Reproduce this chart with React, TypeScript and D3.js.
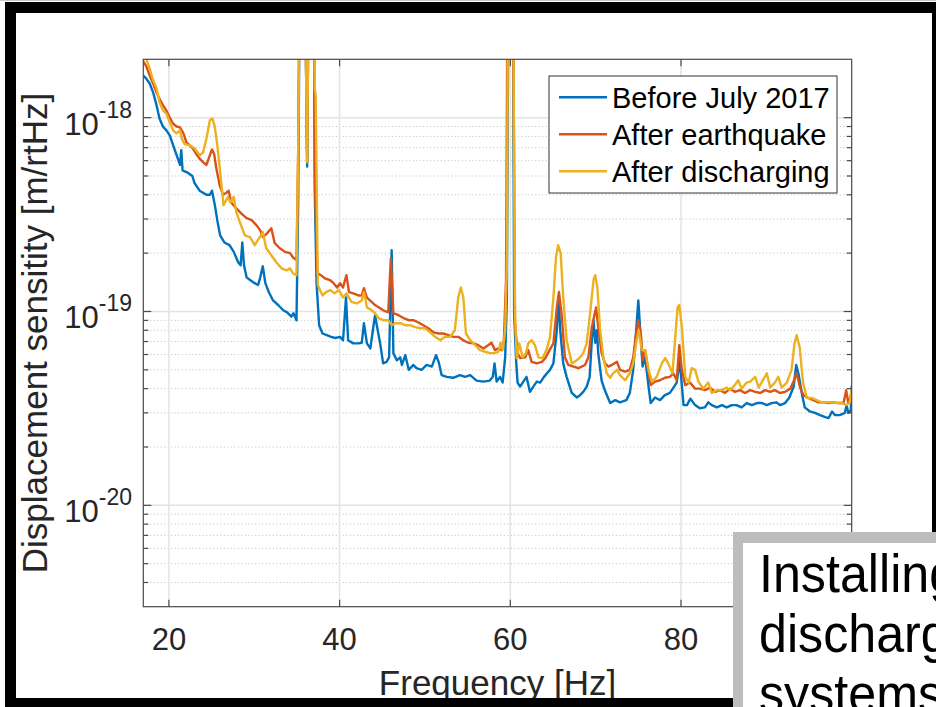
import React from 'react';
import * as d3 from 'd3';

// Displacement sensitivity spectra, values in units of 1e-19 m/rtHz
const UNIT = 1e-19;

const beforeJuly2017: [number, number][] = [
  [17.0, 16.5], [17.35, 15.9], [17.75, 15.0], [18.15, 13.5], [18.55, 11.6], [18.9, 9.9], [19.3, 9.0], [19.7, 8.6],
  [20.1, 8.1], [20.5, 7.2], [20.9, 6.4], [21.3, 5.7], [21.45, 6.8], [21.6, 5.35], [22.2, 5.2], [22.75, 5.0],
  [23.0, 4.6], [23.6, 4.2], [24.4, 4.0], [24.8, 4.0], [25.05, 4.2], [25.4, 3.5], [25.7, 2.9], [26.0, 2.47],
  [26.5, 2.27], [27.1, 2.2], [27.6, 2.03], [28.1, 1.8], [28.4, 1.73], [28.6, 2.27], [28.8, 1.73], [29.1, 1.5],
  [29.55, 1.45], [30.05, 1.4], [30.45, 1.37], [30.7, 1.5], [31.0, 1.71], [31.3, 1.4], [31.7, 1.26], [32.2, 1.14],
  [32.8, 1.08], [33.4, 1.015], [33.85, 0.99], [34.35, 0.94], [34.6, 0.98], [34.95, 0.9], [35.15, 3.75], [35.35, 80],
  [35.9, 80], [36.2, 5.6], [36.4, 80], [36.95, 80], [37.1, 4.0], [37.3, 1.4], [37.6, 0.85], [38.0, 0.77],
  [38.5, 0.755], [39.0, 0.74], [39.5, 0.73], [40.05, 0.74], [40.4, 0.71], [40.75, 1.18], [41.0, 0.71], [41.6, 0.685],
  [42.2, 0.685], [42.6, 0.69], [42.85, 0.87], [43.2, 0.685], [43.6, 0.645], [43.9, 0.8], [44.15, 0.957], [44.4, 0.83],
  [44.75, 0.685], [45.1, 0.54], [45.5, 0.55], [45.8, 0.58], [46.1, 2.07], [46.3, 0.61], [46.7, 0.56], [47.1, 0.58],
  [47.3, 0.53], [47.7, 0.595], [48.1, 0.5], [48.65, 0.53], [49.0, 0.51], [49.6, 0.5], [50.2, 0.53], [50.8, 0.52],
  [51.3, 0.595], [51.6, 0.55], [51.95, 0.47], [52.55, 0.46], [53.3, 0.455], [54.1, 0.47], [54.7, 0.46], [55.3, 0.47],
  [56.05, 0.44], [56.85, 0.435], [57.6, 0.44], [57.95, 0.46], [58.15, 0.54], [58.4, 0.435], [58.8, 0.46], [59.1, 0.43],
  [59.4, 0.58], [59.6, 1.18], [59.8, 80], [60.3, 80], [60.45, 0.98], [60.7, 0.54], [60.85, 0.43], [61.15, 0.41],
  [61.45, 0.43], [61.9, 0.46], [62.3, 0.385], [62.7, 0.41], [63.1, 0.435], [63.5, 0.43], [63.95, 0.46], [64.3, 0.48],
  [64.65, 0.5], [65.05, 0.54], [65.45, 0.8], [65.65, 1.18], [65.85, 0.8], [66.2, 0.54], [66.6, 0.46], [67.2, 0.38],
  [67.8, 0.36], [68.17, 0.37], [68.55, 0.385], [68.95, 0.41], [69.3, 0.46], [69.55, 0.71], [69.75, 0.9], [69.95, 0.69],
  [70.15, 0.8], [70.3, 0.61], [70.7, 0.44], [71.1, 0.39], [71.7, 0.337], [72.3, 0.349], [72.85, 0.34], [73.6, 0.349],
  [74.0, 0.38], [74.4, 0.5], [74.75, 0.8], [75.0, 1.14], [75.2, 0.83], [75.5, 0.52], [75.8, 0.58], [76.2, 0.41],
  [76.45, 0.337], [76.95, 0.36], [77.55, 0.349], [78.1, 0.37], [78.7, 0.38], [79.2, 0.41], [79.5, 0.43], [79.85, 0.56],
  [80.3, 0.329], [80.7, 0.329], [81.1, 0.355], [81.65, 0.329], [82.2, 0.317], [82.8, 0.32], [83.2, 0.34], [83.6, 0.329],
  [84.2, 0.32], [84.8, 0.329], [85.35, 0.32], [85.95, 0.329], [86.5, 0.329], [87.1, 0.32], [87.7, 0.337], [88.3, 0.329],
  [88.9, 0.337], [89.5, 0.337], [90.05, 0.329], [90.6, 0.337], [91.2, 0.34], [91.6, 0.329], [92.2, 0.337], [92.7, 0.36],
  [93.2, 0.41], [93.5, 0.53], [93.75, 0.48], [94.15, 0.38], [94.5, 0.32], [95.1, 0.305], [95.7, 0.3], [96.3, 0.292],
  [96.9, 0.285], [97.3, 0.282], [97.7, 0.305], [98.05, 0.292], [98.6, 0.292], [99.2, 0.3], [99.4, 0.329], [99.6, 0.3],
  [99.9, 0.31], [100.0, 0.41],
];

const afterEarthquake: [number, number][] = [
  [17.0, 19.5], [17.35, 18.4], [17.75, 16.5], [18.15, 15.0], [18.55, 13.5], [18.9, 12.5], [19.3, 11.6], [19.7, 10.9],
  [20.1, 10.0], [20.5, 9.3], [20.9, 9.0], [21.3, 8.9], [21.7, 8.3], [22.05, 7.45], [22.45, 7.2], [22.8, 6.95],
  [23.2, 6.5], [23.6, 6.15], [24.0, 5.9], [24.4, 5.7], [24.8, 6.4], [25.05, 6.85], [25.3, 6.5], [25.55, 5.5],
  [25.95, 4.48], [26.35, 4.0], [26.75, 4.1], [27.0, 4.2], [27.3, 3.65], [27.9, 3.4], [28.5, 3.2], [29.1, 3.03],
  [29.7, 2.96], [30.25, 2.79], [30.7, 2.62], [31.0, 2.42], [31.5, 2.53], [32.0, 2.69], [32.4, 2.25], [33.0, 2.12],
  [33.6, 2.03], [34.2, 2.0], [34.55, 1.9], [34.95, 1.84], [35.15, 6.8], [35.35, 80], [35.9, 80], [36.2, 5.9],
  [36.4, 80], [36.95, 80], [37.1, 4.6], [37.4, 1.58], [37.8, 1.54], [38.3, 1.48], [38.9, 1.45], [39.3, 1.4],
  [39.7, 1.33], [40.05, 1.4], [40.4, 1.33], [40.8, 1.54], [41.1, 1.26], [41.6, 1.24], [42.2, 1.21], [42.6, 1.21],
  [42.85, 1.32], [43.2, 1.18], [43.75, 1.12], [44.15, 1.08], [44.75, 1.04], [45.1, 1.015], [45.7, 0.99], [46.0, 1.88],
  [46.3, 0.98], [46.9, 0.957], [47.5, 0.925], [48.1, 0.902], [48.65, 0.902], [49.2, 0.88], [49.8, 0.85], [50.4, 0.82],
  [51.0, 0.78], [51.6, 0.77], [52.15, 0.77], [52.75, 0.755], [53.35, 0.74], [53.9, 0.74], [54.5, 0.71], [55.1, 0.69],
  [55.7, 0.685], [56.25, 0.67], [56.85, 0.645], [57.4, 0.67], [57.8, 0.69], [58.2, 0.632], [58.6, 0.645], [59.0, 0.632],
  [59.25, 0.711], [59.5, 1.45], [59.7, 80], [60.3, 80], [60.55, 0.87], [60.85, 0.61], [61.15, 0.575], [61.75, 0.58],
  [62.1, 0.632], [62.5, 0.55], [63.1, 0.54], [63.7, 0.55], [64.1, 0.575], [64.6, 0.632], [65.05, 0.685], [65.45, 1.05],
  [65.7, 1.26], [66.0, 0.98], [66.4, 0.58], [66.8, 0.53], [67.4, 0.52], [68.0, 0.51], [68.75, 0.53], [69.15, 0.58],
  [69.55, 0.83], [70.05, 1.05], [70.3, 0.83], [70.7, 0.61], [71.1, 0.54], [71.5, 0.52], [71.9, 0.53], [72.5, 0.55],
  [72.85, 0.5], [73.45, 0.49], [74.0, 0.5], [74.4, 0.58], [74.75, 0.77], [75.0, 0.9], [75.3, 0.77], [75.5, 0.56],
  [75.8, 0.632], [76.2, 0.48], [76.45, 0.417], [76.95, 0.435], [77.55, 0.442], [78.1, 0.455], [78.7, 0.46], [79.1, 0.48],
  [79.5, 0.442], [79.8, 0.67], [80.1, 0.5], [80.5, 0.417], [81.05, 0.43], [81.65, 0.4], [82.2, 0.4], [82.8, 0.393],
  [83.4, 0.405], [84.0, 0.385], [84.6, 0.393], [85.15, 0.38], [85.75, 0.4], [86.3, 0.385], [86.9, 0.393], [87.5, 0.38],
  [88.1, 0.393], [88.7, 0.385], [89.3, 0.38], [89.85, 0.393], [90.45, 0.385], [91.0, 0.393], [91.6, 0.38], [92.2, 0.385],
  [92.8, 0.4], [93.25, 0.442], [93.55, 0.48], [93.95, 0.405], [94.35, 0.37], [94.9, 0.358], [95.5, 0.349], [96.1, 0.34],
  [96.7, 0.34], [97.3, 0.337], [97.85, 0.34], [98.45, 0.337], [99.05, 0.337], [99.35, 0.393], [99.6, 0.337], [100.0, 0.38],
];

const afterDischarging: [number, number][] = [
  [17.0, 20.5], [17.35, 20.1], [17.75, 17.9], [18.15, 15.6], [18.55, 14.2], [18.9, 12.0], [19.3, 10.9], [19.7, 10.5],
  [20.1, 9.45], [20.5, 8.6], [20.9, 8.3], [21.3, 8.6], [21.5, 7.8], [21.85, 7.3], [22.45, 7.2], [23.0, 6.95],
  [23.6, 6.4], [24.0, 6.6], [24.4, 7.8], [24.8, 9.7], [25.1, 9.9], [25.35, 9.1], [25.65, 7.35], [26.05, 5.04],
  [26.4, 3.53], [26.9, 3.9], [27.2, 3.65], [27.6, 3.9], [27.9, 3.25], [28.3, 2.9], [28.9, 2.47], [29.5, 2.42],
  [30.05, 2.2], [30.65, 2.42], [31.0, 2.57], [31.4, 2.12], [32.0, 1.95], [32.6, 1.79], [33.2, 1.67], [33.8, 1.63],
  [34.2, 1.67], [34.55, 1.57], [34.95, 1.54], [35.15, 6.8], [35.35, 80], [35.9, 80], [36.2, 5.9], [36.4, 80],
  [36.95, 80], [37.1, 14.1], [37.2, 13.0], [37.45, 1.37], [37.7, 1.29], [38.0, 1.21], [38.4, 1.26], [38.9, 1.29],
  [39.4, 1.24], [39.9, 1.29], [40.05, 1.26], [40.4, 1.18], [40.8, 1.24], [41.4, 1.12], [42.0, 1.1], [42.6, 1.14],
  [42.85, 1.26], [43.2, 1.05], [43.75, 1.015], [44.15, 0.98], [44.55, 0.925], [45.1, 0.902], [45.7, 0.902], [46.1, 0.85],
  [46.5, 0.87], [47.1, 0.87], [47.7, 0.85], [48.25, 0.85], [48.85, 0.83], [49.4, 0.82], [50.0, 0.82], [50.6, 0.78],
  [51.2, 0.74], [51.8, 0.711], [52.35, 0.74], [52.95, 0.74], [53.5, 0.8], [53.9, 1.18], [54.2, 1.33], [54.5, 1.18],
  [54.8, 0.77], [55.3, 0.711], [55.9, 0.67], [56.45, 0.632], [57.05, 0.62], [57.6, 0.61], [58.2, 0.61], [58.6, 0.62],
  [58.85, 0.69], [59.1, 0.632], [59.4, 0.8], [59.6, 1.78], [59.75, 80], [60.3, 80], [60.55, 0.98], [60.75, 0.575],
  [61.05, 0.685], [61.45, 0.58], [61.85, 0.61], [62.1, 0.685], [62.5, 0.711], [62.9, 0.67], [63.3, 0.58], [63.8, 0.575],
  [64.3, 0.645], [64.65, 0.74], [65.05, 1.18], [65.35, 1.9], [65.6, 2.2], [65.9, 2.0], [66.2, 1.18], [66.6, 0.711],
  [67.2, 0.54], [67.8, 0.56], [68.17, 0.58], [68.55, 0.61], [68.95, 0.685], [69.35, 0.98], [69.75, 1.45], [69.95, 1.54],
  [70.2, 1.33], [70.5, 0.83], [70.9, 0.58], [71.3, 0.48], [71.7, 0.455], [72.05, 0.48], [72.5, 0.5], [72.85, 0.47],
  [73.45, 0.442], [74.0, 0.48], [74.4, 0.54], [74.8, 0.711], [75.05, 0.8], [75.4, 0.632], [75.8, 0.632], [76.2, 0.5],
  [76.6, 0.435], [77.15, 0.46], [77.75, 0.54], [78.15, 0.575], [78.5, 0.54], [79.0, 0.48], [79.3, 0.711], [79.6, 1.05],
  [79.8, 1.08], [80.1, 0.83], [80.5, 0.46], [80.9, 0.43], [81.25, 0.51], [81.65, 0.5], [82.05, 0.435], [82.6, 0.4],
  [83.2, 0.43], [83.6, 0.38], [84.2, 0.393], [84.8, 0.393], [85.35, 0.405], [85.75, 0.393], [86.3, 0.417], [86.7, 0.442],
  [87.1, 0.4], [87.7, 0.43], [88.1, 0.435], [88.7, 0.46], [89.1, 0.405], [89.5, 0.435], [90.05, 0.48], [90.45, 0.405],
  [91.0, 0.43], [91.4, 0.46], [91.8, 0.405], [92.4, 0.43], [92.95, 0.5], [93.3, 0.685], [93.55, 0.755], [93.9, 0.655],
  [94.3, 0.43], [94.75, 0.358], [95.35, 0.358], [95.9, 0.349], [96.5, 0.34], [97.1, 0.34], [97.7, 0.34], [98.25, 0.337],
  [98.85, 0.337], [99.4, 0.329], [99.75, 0.337], [100.0, 0.4],
];

const SERIES = [beforeJuly2017, afterEarthquake, afterDischarging];
const SERIES_NAMES = ['Before July 2017', 'After earthquake', 'After discharging'];
const SERIES_COLORS = ['#0072BD', '#D95319', '#EDB120'];

const X_DOMAIN: [number, number] = [17, 100];
const Y_DOMAIN: [number, number] = [3e-21, 2e-18];
const X_TICKS = [20, 40, 60, 80];
const Y_DECADES = [-20, -19, -18];
const X_LABEL = 'Frequency [Hz]';
const Y_LABEL = 'Displacement sensitity [m/rtHz]';
const CALLOUT_LINES = ['Installing', 'discharging', 'systems'];

const FONT = '"Liberation Sans", Arial, Helvetica, sans-serif';
const INK = '#262626';

export default function App() {
  const W = 936;
  const H = 707;
  const plot = { left: 143.3, right: 851.7, top: 59.3, bottom: 606.7 };

  const x = d3.scaleLinear().domain(X_DOMAIN).range([plot.left, plot.right]);
  const y = d3.scaleLog().domain(Y_DOMAIN).range([plot.bottom, plot.top]);

  const line = d3
    .line<[number, number]>()
    .x((d) => x(d[0]))
    .y((d) => y(d[1] * UNIT));

  const minorValues: number[] = [];
  for (let e = -21; e <= -18; e++) {
    for (let k = 2; k <= 9; k++) {
      const v = k * Math.pow(10, e);
      if (v > Y_DOMAIN[0] * 1.01 && v < Y_DOMAIN[1] * 0.99) minorValues.push(v);
    }
  }
  const majorValues = Y_DECADES.map((e) => Math.pow(10, e));

  const legend = { x: 549, y: 76, w: 288, h: 117, rowH: 37 };

  return (
    <svg
      width={W}
      height={H}
      viewBox={`0 0 ${W} ${H}`}
      style={{ position: 'absolute', left: 0, top: 0, background: '#fff' }}
      fontFamily={FONT}
    >
      <defs>
        <clipPath id="plot-clip">
          <rect x={plot.left} y={plot.top} width={plot.right - plot.left} height={plot.bottom - plot.top} />
        </clipPath>
      </defs>
      <rect x={0} y={0} width={W} height={H} fill="#fff" />

      {/* grid */}
      <g>
        {minorValues.map((v) => (
          <line
            key={`mg${v}`}
            x1={plot.left}
            x2={plot.right}
            y1={y(v)}
            y2={y(v)}
            stroke="#bcbcbc"
            strokeWidth={1}
            strokeDasharray="1 2.5"
          />
        ))}
        {majorValues.map((v) => (
          <line key={`Mg${v}`} x1={plot.left} x2={plot.right} y1={y(v)} y2={y(v)} stroke="#e3e3e3" strokeWidth={1.5} />
        ))}
        {X_TICKS.map((t) => (
          <line key={`xg${t}`} x1={x(t)} x2={x(t)} y1={plot.top} y2={plot.bottom} stroke="#e3e3e3" strokeWidth={1.5} />
        ))}
      </g>

      {/* spectra */}
      <g clipPath="url(#plot-clip)" fill="none" strokeLinejoin="round" strokeLinecap="round">
        {SERIES.map((s, i) => (
          <path key={SERIES_NAMES[i]} d={line(s) || ''} stroke={SERIES_COLORS[i]} strokeWidth={2.4} />
        ))}
      </g>

      {/* axes box and ticks */}
      <g stroke="#4a4a4a" strokeWidth={1.2}>
        <rect
          x={plot.left}
          y={plot.top}
          width={plot.right - plot.left}
          height={plot.bottom - plot.top}
          fill="none"
        />
        {X_TICKS.map((t) => (
          <g key={`xt${t}`}>
            <line x1={x(t)} x2={x(t)} y1={plot.bottom} y2={plot.bottom - 7} />
            <line x1={x(t)} x2={x(t)} y1={plot.top} y2={plot.top + 7} />
          </g>
        ))}
        {majorValues.map((v) => (
          <g key={`yt${v}`}>
            <line x1={plot.left} x2={plot.left + 8} y1={y(v)} y2={y(v)} />
            <line x1={plot.right} x2={plot.right - 8} y1={y(v)} y2={y(v)} />
          </g>
        ))}
        {minorValues.map((v) => (
          <g key={`ymt${v}`}>
            <line x1={plot.left} x2={plot.left + 5} y1={y(v)} y2={y(v)} />
            <line x1={plot.right} x2={plot.right - 5} y1={y(v)} y2={y(v)} />
          </g>
        ))}
      </g>

      {/* tick labels */}
      <g fill={INK}>
        {X_TICKS.map((t) => (
          <text key={`xl${t}`} x={x(t)} y={650} fontSize={31} textAnchor="middle">
            {t}
          </text>
        ))}
        {Y_DECADES.map((e) => (
          <text key={`yl${e}`} x={132} y={y(Math.pow(10, e)) + 17} fontSize={31} textAnchor="end">
            <tspan>10</tspan>
            <tspan dy={-17} fontSize={23}>
              {String(e)}
            </tspan>
          </text>
        ))}
      </g>

      {/* axis labels */}
      <text x={(plot.left + plot.right) / 2} y={695} fontSize={35} textAnchor="middle" fill={INK}>
        {X_LABEL}
      </text>
      <text
        transform={`translate(47, ${(plot.top + plot.bottom) / 2}) rotate(-90)`}
        fontSize={35}
        textAnchor="middle"
        fill={INK}
      >
        {Y_LABEL}
      </text>

      {/* legend */}
      <g>
        <rect x={legend.x} y={legend.y} width={legend.w} height={legend.h} fill="#fff" stroke="#333" strokeWidth={1} />
        {SERIES_NAMES.map((name, i) => {
          const cy = legend.y + 21.3 + i * legend.rowH;
          return (
            <g key={`lg${name}`}>
              <line x1={559} x2={607} y1={cy} y2={cy} stroke={SERIES_COLORS[i]} strokeWidth={2.4} />
              <text x={612} y={cy + 10.5} fontSize={29} fill="#000">
                {name}
              </text>
            </g>
          );
        })}
      </g>

      {/* page frame */}
      <line x1={0} x2={W} y1={0.5} y2={0.5} stroke="#c8c8c8" strokeWidth={1} />
      <rect x={10.5} y={7.5} width={927} height={696} fill="none" stroke="#000" strokeWidth={11} />

      {/* callout box, running off the page edge */}
      <g>
        <rect x={733} y={532} width={220} height={190} fill="#bdbdbd" />
        <rect x={743} y={543} width={210} height={180} fill="#fff" />
        {CALLOUT_LINES.map((t, i) => (
          <text
            key={`co${t}`}
            transform={`translate(759, ${592 + i * 60}) scale(0.93, 1)`}
            fontSize={54}
            fill="#000"
          >
            {t}
          </text>
        ))}
      </g>
    </svg>
  );
}
